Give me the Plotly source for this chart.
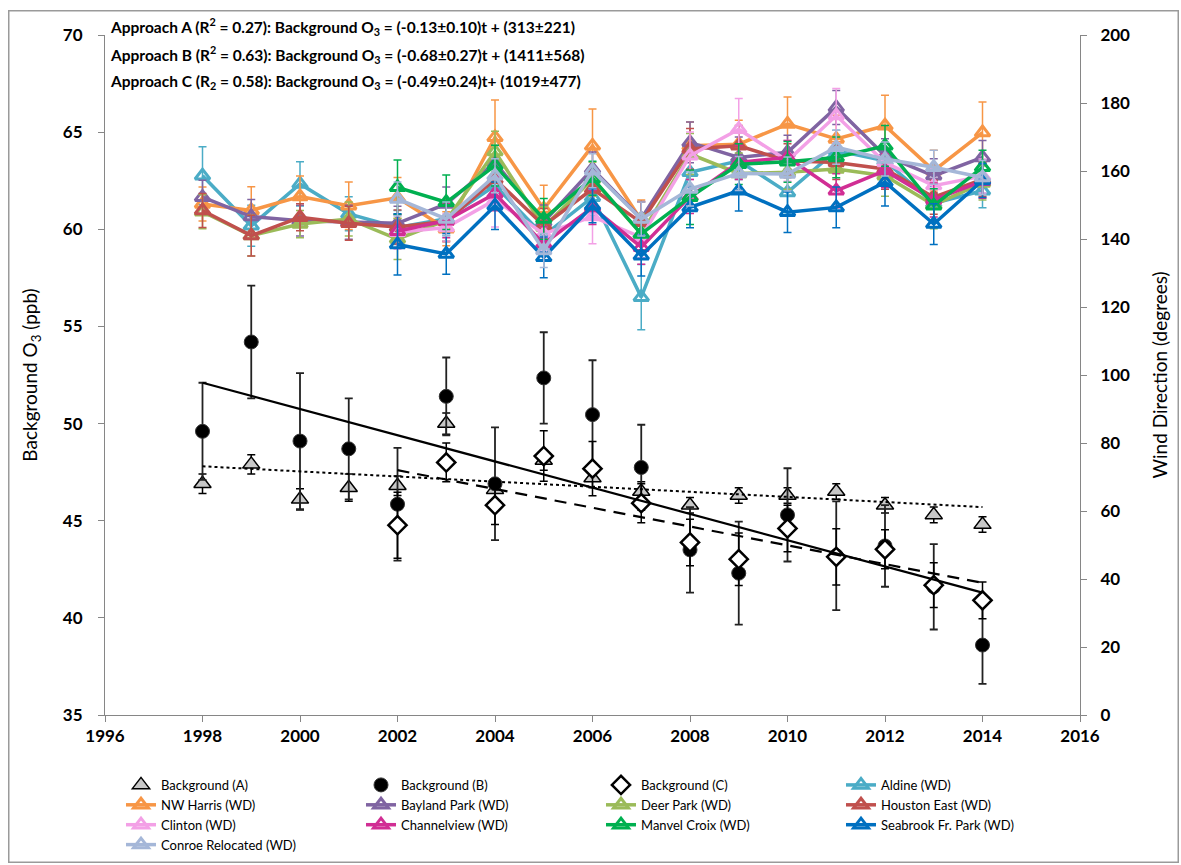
import plotly.graph_objects as go

years = list(range(1998, 2015))
years_c = list(range(2002, 2015))

# Background O3 (ppb), left axis
bg_a = [46.9, 47.9, 46.1, 46.7, 46.8, 50.0, 46.6, 48.1, 47.2, 46.5, 45.8, 46.3, 46.3, 46.5, 45.8, 45.3, 44.8]
bg_a_err = [0.5, 0.5, 0.55, 0.7, 0.5, 0.55, 0.5, 0.5, 0.5, 0.5, 0.4, 0.4, 0.4, 0.4, 0.4, 0.4, 0.4]
bg_b = [49.6, 54.2, 49.1, 48.7, 45.85, 51.4, 46.9, 52.35, 50.46, 47.74, 43.5, 42.3, 45.3, 43.2, 43.7, 41.6, 38.6]
bg_b_err = [2.5, 2.9, 3.5, 2.6, 2.9, 2.0, 2.9, 2.35, 2.8, 2.2, 2.2, 2.65, 2.4, 2.8, 2.1, 2.2, 2.0]
bg_c = [44.77, 48.0, 45.8, 48.33, 47.68, 45.9, 43.88, 43.02, 44.6, 43.14, 43.53, 41.68, 40.9]
bg_c_err = [1.7, 1.0, 1.0, 1.3, 1.4, 1.0, 1.2, 1.35, 1.2, 1.45, 1.0, 1.15, 0.95]

# Trend line end points
trend_a_x = [1998, 2014]
trend_a_y = [47.8, 45.7]
trend_b_x = [1998, 2014]
trend_b_y = [52.1, 41.3]
trend_c_x = [2002, 2014]
trend_c_y = [47.6, 41.8]

# Wind direction (degrees), right axis
stations = ["Aldine (WD)", "NW Harris (WD)", "Bayland Park (WD)", "Deer Park (WD)", "Houston East (WD)",
            "Clinton (WD)", "Channelview (WD)", "Manvel Croix (WD)", "Seabrook Fr. Park (WD)", "Conroe Relocated (WD)"]
aldine = [158.6, 143.9, 156.2, 147.4, 143.4, 146.0, 155.7, 141.0, 152.3, 122.9, 159.6, 163.0, 153.7, 166.0, 163.0, 150.5, 154.2]
nw_harris = [150.3, 148.4, 152.5, 149.8, 152.1, 143.0, 169.9, 148.8, 167.4, 145.5, 167.4, 167.9, 173.8, 169.4, 173.3, 160.1, 171.3]
bayland = [152.3, 146.6, 145.4, 144.9, 144.6, 150.3, 162.5, 145.0, 160.6, 146.0, 168.4, 164.0, 165.5, 178.7, 164.5, 158.6, 164.0]
deer_park = [148.0, 141.0, 144.4, 145.9, 140.0, 145.5, 165.7, 143.5, 157.6, 141.5, 165.0, 159.3, 159.6, 160.6, 158.6, 150.0, 156.5]
houston_east = [148.4, 141.0, 146.4, 144.6, 143.5, 145.2, 157.6, 144.0, 154.7, 144.9, 166.5, 167.4, 163.0, 162.5, 160.6, 152.3, 157.5]
clinton = [142.0, 143.4, 151.5, 141.5, 146.6, 140.5, 164.5, 172.3, 163.0, 176.3, 162.5, 155.7, 158.5]
channelview = [142.3, 145.4, 153.3, 138.6, 149.3, 137.6, 152.5, 162.5, 164.0, 154.2, 160.1, 151.5, 157.0]
manvel = [155.2, 150.8, 161.6, 145.9, 157.9, 141.5, 152.3, 162.0, 162.7, 164.0, 167.4, 149.8, 161.1]
seabrook = [138.4, 135.6, 149.8, 134.6, 149.8, 135.1, 149.3, 154.2, 147.9, 149.3, 156.7, 144.4, 157.2]
conroe = [151.8, 145.9, 158.6, 136.6, 160.1, 145.9, 154.7, 159.3, 159.1, 167.0, 163.5, 161.1, 158.1]

aldine_err = [8.5, 6.0, 6.5, 5.0, 5.0, 5.0, 6.0, 5.0, 5.5, 9.6, 6.0, 5.5, 6.0, 6.0, 5.5, 5.0, 5.0]
nw_harris_err = [5.0, 7.0, 6.0, 7.0, 6.0, 5.0, 11.0, 7.0, 10.8, 6.0, 7.0, 7.0, 8.0, 7.0, 9.0, 6.0, 9.0]
bayland_err = [5.0, 5.0, 4.5, 5.0, 5.0, 5.0, 5.0, 5.0, 5.0, 5.0, 6.0, 6.0, 5.0, 5.0, 5.0, 5.0, 5.0]
deer_park_err = [5.0, 6.0, 4.0, 5.0, 6.0, 6.0, 6.0, 6.0, 5.0, 6.0, 6.0, 6.0, 5.0, 6.0, 6.0, 7.0, 5.0]
houston_east_err = [5.0, 6.0, 4.0, 5.0, 5.0, 6.0, 5.0, 5.0, 5.0, 6.0, 6.0, 6.0, 5.0, 5.0, 6.0, 5.0, 5.0]
clinton_err = [5.0, 4.0, 8.0, 5.0, 8.0, 6.0, 7.0, 9.0, 6.0, 8.0, 6.0, 5.0, 5.0]
channelview_err = [5.0, 5.0, 5.0, 5.0, 5.0, 5.0, 5.0, 5.0, 5.0, 5.0, 5.0, 5.0, 5.0]
manvel_err = [8.0, 8.0, 6.0, 6.0, 5.0, 5.0, 8.0, 6.0, 6.0, 6.0, 6.0, 5.0, 5.0]
seabrook_err = [9.0, 6.0, 7.0, 6.0, 5.0, 6.0, 6.0, 6.0, 6.0, 6.0, 7.0, 6.0, 5.0]
conroe_err = [5.0, 5.0, 5.0, 5.0, 5.0, 5.0, 5.0, 5.0, 5.0, 5.0, 5.0, 5.0, 5.0]

station_data = [
    (aldine, aldine_err, years, "#4BACC6"),
    (nw_harris, nw_harris_err, years, "#F79646"),
    (bayland, bayland_err, years, "#8064A2"),
    (deer_park, deer_park_err, years, "#9BBB59"),
    (houston_east, houston_east_err, years, "#C0504D"),
    (clinton, clinton_err, years_c, "#F3A0E6"),
    (channelview, channelview_err, years_c, "#D12E94"),
    (manvel, manvel_err, years_c, "#00B050"),
    (seabrook, seabrook_err, years_c, "#0070C0"),
    (conroe, conroe_err, years_c, "#A5B7D8"),
]

FONT = "Lato, Carlito, Calibri, sans-serif"

# plot-area pixel geometry
PL, PR, PT, PB = 105, 1080, 34.5, 715
PW, PH = PR - PL, PB - PT

fig = go.Figure()

# Wind direction series (right axis)
for name, (vals, errs, xs, col) in zip(stations, station_data):
    fig.add_trace(go.Scatter(
        x=xs, y=vals, name=name, yaxis="y2", mode="lines+markers",
        line=dict(color=col, width=3.5),
        marker=dict(symbol="triangle-up-open", size=13, color=col, line=dict(width=3, color=col)),
        error_y=dict(type="data", array=errs, color=col, thickness=1.5, width=4),
        legendrank=1000,
    ))

# Background series (left axis)
fig.add_trace(go.Scatter(
    x=years, y=bg_a, name="Background (A)", mode="markers",
    marker=dict(symbol="triangle-up", size=15, color="#C8C8C8", line=dict(width=1.5, color="black")),
    error_y=dict(type="data", array=bg_a_err, color="black", thickness=1.5, width=4),
    legendrank=1,
))
fig.add_trace(go.Scatter(
    x=years, y=bg_b, name="Background (B)", mode="markers",
    marker=dict(symbol="circle", size=14, color="black", line=dict(width=1, color="#333")),
    error_y=dict(type="data", array=bg_b_err, color="#222", thickness=1.8, width=4),
    legendrank=2,
))
fig.add_trace(go.Scatter(
    x=years_c, y=bg_c, name="Background (C)", mode="markers",
    marker=dict(symbol="diamond", size=14, color="white", line=dict(width=2.5, color="black")),
    error_y=dict(type="data", array=bg_c_err, color="black", thickness=1.5, width=4),
    legendrank=3,
))

# Trend lines
fig.add_trace(go.Scatter(x=trend_a_x, y=trend_a_y, mode="lines", showlegend=False,
                         line=dict(color="black", width=2, dash="dot"), hoverinfo="skip"))
fig.add_trace(go.Scatter(x=trend_b_x, y=trend_b_y, mode="lines", showlegend=False,
                         line=dict(color="black", width=2.2), hoverinfo="skip"))
fig.add_trace(go.Scatter(x=trend_c_x, y=trend_c_y, mode="lines", showlegend=False,
                         line=dict(color="black", width=2.2, dash="12px,8px"), hoverinfo="skip"))

annotations_text = [
    "Approach A (R<sup>2</sup> = 0.27): Background O<sub>3</sub> = (-0.13±0.10)t + (313±221)",
    "Approach B (R<sup>2</sup> = 0.63): Background O<sub>3</sub> = (-0.68±0.27)t + (1411±568)",
    "Approach C (R<sub>2</sub> = 0.58): Background O<sub>3</sub> = (-0.49±0.24)t+ (1019±477)",
]
ann_y = [26, 54, 82]
annotations = []
for txt, yy in zip(annotations_text, ann_y):
    annotations.append(dict(
        text=txt, xref="paper", yref="paper", x=(108 - PL) / PW, y=1 - (yy - PT) / PH,
        xanchor="left", yanchor="middle", showarrow=False,
        font=dict(family=FONT, size=15.5, color="black", weight="bold"),
    ))

# chart-area border drawn as a bordered annotation box
BX0, BX1, BY0, BY1 = 8, 1178, 10, 862
annotations.append(dict(
    text=" ", xref="paper", yref="paper",
    x=((BX0 + BX1) / 2 - PL) / PW, y=1 - ((BY0 + BY1) / 2 - PT) / PH,
    xanchor="center", yanchor="middle", showarrow=False,
    width=BX1 - BX0 - 2, height=BY1 - BY0 - 2, borderpad=0,
    bordercolor="#9A9A9A", borderwidth=1.5, bgcolor="rgba(0,0,0,0)",
))

axis_common = dict(showgrid=False, zeroline=False, showline=True, linecolor="#868686", linewidth=1,
                   ticks="outside", tickcolor="#868686", ticklen=6,
                   tickfont=dict(family=FONT, size=17, color="black", weight="bold"))

fig.update_layout(
    width=1181, height=865,
    margin=dict(l=PL, r=1181 - PR, t=PT, b=865 - PB, autoexpand=False),
    paper_bgcolor="white", plot_bgcolor="white",
    font=dict(family=FONT, color="black"),
    xaxis=dict(range=[1996, 2016], dtick=2, tick0=1996, **axis_common),
    yaxis=dict(range=[35, 70], dtick=5, ticklabelstandoff=12,
               title=dict(text="Background O<sub>3</sub> (ppb)", font=dict(family=FONT, size=19), standoff=20),
               **axis_common),
    yaxis2=dict(range=[0, 200], dtick=20, overlaying="y", side="right", ticklabelstandoff=10,
                title=dict(text="Wind Direction (degrees)", font=dict(family=FONT, size=19), standoff=24),
                **axis_common),
    legend=dict(orientation="h", x=(121 - PL) / PW, y=1 - (770 - PT) / PH, xanchor="left", yanchor="top",
                entrywidth=195, entrywidthmode="pixels", traceorder="normal",
                font=dict(family=FONT, size=13, color="black"), tracegroupgap=0,
                itemwidth=30, bgcolor="rgba(0,0,0,0)"),
    annotations=annotations,
)

fig.write_html("out.html", config={"displayModeBar": False},
               post_script="document.body.style.margin='0px';document.body.style.overflow='hidden';")
